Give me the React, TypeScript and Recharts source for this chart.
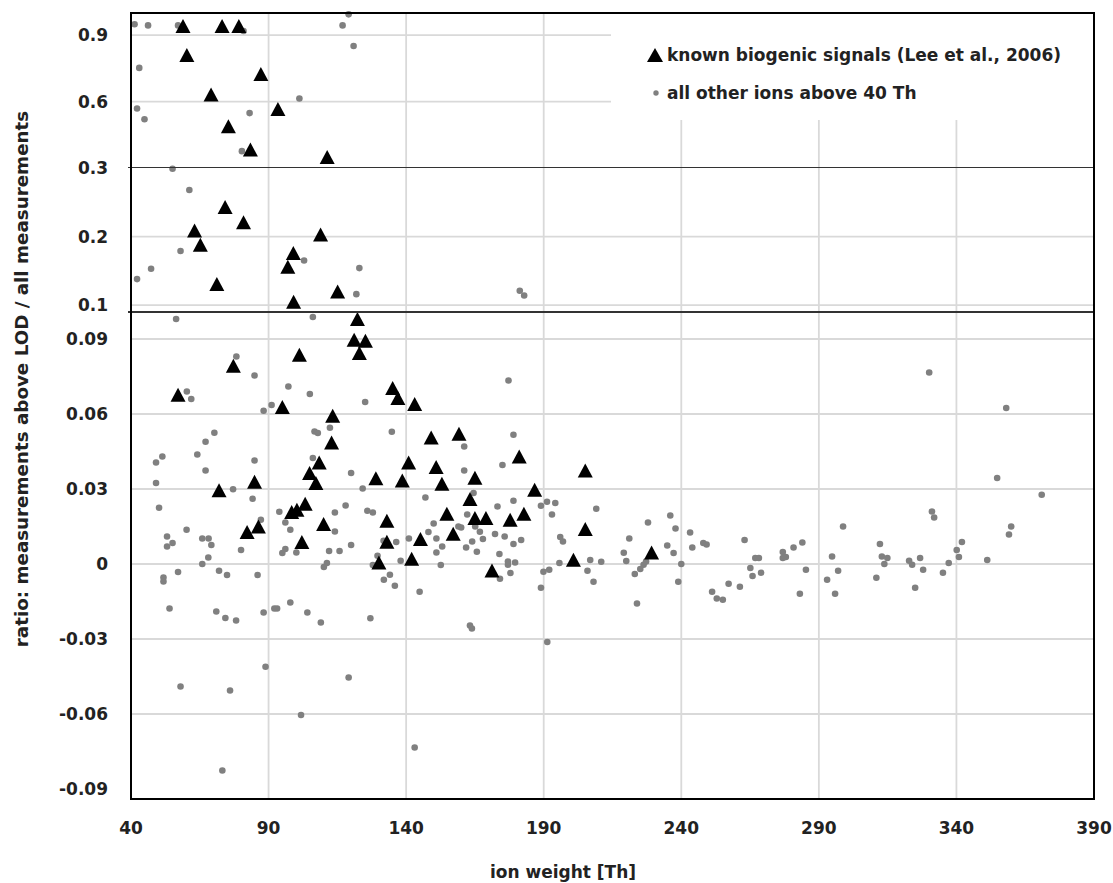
import React from "react";
import { ScatterChart, Scatter, XAxis, YAxis, CartesianGrid } from "recharts";

// x axis (ion weight, Th)
const xTicks = [40, 90, 140, 190, 240, 290, 340, 390];

// broken y axis: three stacked panels
const topTicks = [0.6, 0.9];
const midTicks = [0.1, 0.2, 0.3];
const lowTicks = [-0.09, -0.06, -0.03, 0, 0.03, 0.06, 0.09];
const lowGrid = [-0.06, -0.03, 0, 0.03, 0.06, 0.09];

// known biogenic signals (Lee et al., 2006): [ion weight, ratio]
const biogenic: [number, number][] = [
	[58.9, 0.941], [73.1, 0.941], [79.2, 0.941], [60.3, 0.81], [87.2, 0.724],
	[69.1, 0.632], [93.4, 0.567], [75.4, 0.489], [83.4, 0.383], [111.3, 0.35],
	[74.2, 0.243], [80.9, 0.221], [63.1, 0.209], [65.2, 0.188], [108.9, 0.203],
	[99.0, 0.176], [97.0, 0.156], [71.2, 0.131], [115.1, 0.12], [99.1, 0.105],
	[122.3, 0.098], [121.1, 0.0897], [125.2, 0.0893], [123.0, 0.0844], [101.2, 0.0837],
	[77.2, 0.0793], [57.1, 0.0677], [95.0, 0.0628], [113.3, 0.0593], [112.9, 0.0486],
	[108.4, 0.0406], [104.9, 0.0364], [107.2, 0.0324], [84.9, 0.0329], [129.0, 0.0343],
	[72.0, 0.0295], [135.1, 0.0704], [137.0, 0.0664], [143.1, 0.064], [149.1, 0.0506],
	[159.2, 0.0521], [181.1, 0.043], [205.1, 0.0374], [140.9, 0.0406], [150.9, 0.0388],
	[138.6, 0.0334], [165.0, 0.0345], [153.0, 0.0321], [186.7, 0.0297], [163.2, 0.026],
	[154.8, 0.0201], [133.0, 0.0173], [165.0, 0.0184], [169.0, 0.0184], [177.8, 0.0177],
	[182.8, 0.0201], [205.1, 0.014], [145.2, 0.01], [157.1, 0.0121], [133.0, 0.0089],
	[130.1, 0.0006], [142.0, 0.0021], [171.2, -0.0026], [200.8, 0.0017], [229.2, 0.0046],
	[82.2, 0.0128], [86.3, 0.015], [98.4, 0.0208], [100.3, 0.0217], [103.3, 0.0241],
	[110.0, 0.016], [102.1, 0.0088],
];

// all other ions above 40 Th: [ion weight, ratio]
const otherIons: [number, number][] = [
	// > 0.3
	[41.3, 0.949], [46.2, 0.944], [57.1, 0.944], [80.9, 0.919], [116.9, 0.944],
	[119.1, 0.994], [120.9, 0.851], [43.0, 0.752], [42.2, 0.569], [44.9, 0.52],
	[101.2, 0.614], [83.1, 0.548], [80.3, 0.376],
	// 0.1 - 0.3
	[55.1, 0.299], [61.2, 0.268], [58.0, 0.179], [47.3, 0.153], [42.2, 0.138],
	[102.9, 0.165], [123.0, 0.154], [121.9, 0.116], [181.3, 0.121], [182.9, 0.114],
	// < 0.1
	[56.4, 0.098], [106.1, 0.0988], [78.3, 0.083], [84.9, 0.0754], [60.3, 0.069],
	[61.9, 0.066], [97.2, 0.071], [105.0, 0.068], [125.1, 0.0648], [88.2, 0.0613],
	[91.1, 0.0636], [70.3, 0.0525], [67.1, 0.0489], [64.1, 0.0438], [51.4, 0.043],
	[49.1, 0.0406], [67.1, 0.0374], [49.1, 0.0324], [84.9, 0.0414], [106.7, 0.053],
	[107.9, 0.0524], [112.3, 0.0545], [106.1, 0.0424], [120.0, 0.0364], [124.2, 0.0302],
	[77.1, 0.0299], [177.2, 0.0734], [134.8, 0.0529], [179.0, 0.0517], [161.1, 0.047],
	[175.0, 0.0396], [161.1, 0.0374], [84.2, 0.0261], [50.2, 0.0225], [87.2, 0.0177],
	[60.2, 0.0137], [53.1, 0.011], [53.1, 0.007], [55.1, 0.0084], [65.9, 0.0102],
	[68.2, 0.0102], [69.2, 0.0076], [80.0, 0.0056], [68.1, 0.0026], [65.9, 0.0],
	[57.1, -0.0032], [51.8, -0.0054], [51.8, -0.007], [72.0, -0.0027], [74.9, -0.0044],
	[86.0, -0.0044], [93.9, 0.0209], [96.1, 0.0166], [97.9, 0.0137], [95.0, 0.0044],
	[96.1, 0.006], [100.1, 0.0046], [114.1, 0.0206], [118.0, 0.0234], [114.1, 0.013],
	[112.0, 0.0052], [115.8, 0.0052], [120.0, 0.0076], [110.1, -0.0012], [111.2, 0.0004],
	[125.9, 0.0213], [127.9, 0.0206], [127.9, -0.0004], [54.0, -0.0178], [71.0, -0.019],
	[74.3, -0.0216], [78.2, -0.0226], [88.2, -0.0194], [92.1, -0.0178], [93.1, -0.0178],
	[97.9, -0.0154], [104.1, -0.0194], [109.0, -0.0234], [127.0, -0.0217],
	[147.0, 0.0266], [164.5, 0.0284], [179.0, 0.0253], [191.2, 0.0249], [194.2, 0.0244],
	[189.0, 0.0233], [193.0, 0.0198], [209.1, 0.0221], [173.2, 0.023], [150.0, 0.0162],
	[148.1, 0.0128], [141.0, 0.0102], [151.0, 0.0102], [159.0, 0.015], [160.0, 0.0146],
	[162.2, 0.0198], [165.1, 0.015], [166.8, 0.0129], [167.9, 0.01], [164.0, 0.009],
	[161.8, 0.0066], [165.7, 0.0049], [172.3, 0.012], [175.8, 0.011], [179.0, 0.008],
	[181.8, 0.0096], [173.9, 0.004], [177.0, 0.001], [177.0, -0.0003], [179.6, 0.0006],
	[177.9, -0.0036], [174.1, -0.0059], [196.0, 0.0108], [197.0, 0.009], [195.7, 0.0004],
	[189.9, -0.0031], [192.0, -0.0023], [189.0, -0.0095], [206.9, 0.0016], [210.9, 0.0009],
	[205.9, -0.0027], [208.1, -0.0071], [136.4, 0.0088], [131.8, 0.0093], [153.1, 0.007],
	[151.0, 0.0046], [138.0, 0.0013], [152.6, -0.0004], [129.6, 0.0033], [134.1, -0.0043],
	[131.9, -0.0063], [135.9, -0.0087], [144.9, -0.0111], [163.2, -0.0246], [163.9, -0.0258],
	[191.3, -0.0312],
	[330.1, 0.0766], [358.1, 0.0624], [354.8, 0.0344], [371.0, 0.0277], [331.1, 0.021],
	[331.9, 0.0186], [359.9, 0.015], [359.1, 0.0118], [351.2, 0.0016], [342.0, 0.0088],
	[340.1, 0.0056], [340.9, 0.0028], [337.2, 0.0004], [335.1, -0.0035], [326.8, 0.0024],
	[322.8, 0.0013], [323.9, -0.0003], [327.9, -0.0023], [325.0, -0.0095], [312.2, 0.008],
	[312.9, 0.003], [314.9, 0.0024], [313.8, 0.0], [310.9, -0.0055], [298.8, 0.015],
	[294.8, 0.003], [297.0, -0.0027], [293.0, -0.0063], [295.9, -0.0119], [284.0, 0.0086],
	[280.8, 0.0066], [276.9, 0.0048], [276.9, 0.0024], [278.0, 0.0028], [285.3, -0.0023],
	[283.1, -0.0119], [263.0, 0.0096], [266.9, 0.0024], [268.2, 0.0024], [265.1, -0.0016],
	[265.9, -0.0048], [269.0, -0.0035], [257.2, -0.0079], [261.3, -0.0091], [251.2, -0.0111],
	[252.9, -0.0138], [255.1, -0.0143], [236.0, 0.0194], [227.9, 0.0166], [221.1, 0.0102],
	[237.9, 0.0142], [243.2, 0.0126], [234.9, 0.0074], [237.2, 0.0044], [244.0, 0.0066],
	[248.0, 0.0084], [249.2, 0.0078], [240.0, 0.0], [238.9, -0.0071], [219.1, 0.0045],
	[220.0, 0.0012], [223.1, -0.004], [225.1, -0.002], [226.3, -0.0003], [227.2, 0.001],
	[223.9, -0.0158],
	[58.0, -0.049], [76.0, -0.0506], [88.9, -0.0411], [73.2, -0.0826], [101.8, -0.0604],
	[119.1, -0.0454], [143.1, -0.0734],
];

const toPts = (arr: [number, number][], lo: number, hi: number) =>
	arr.filter(([, y]) => y > lo && y <= hi).map(([x, y]) => ({ x, y }));

const Tri = (p: any) => (
	<polygon
		points={`${p.cx},${p.cy - 7} ${p.cx - 7.5},${p.cy + 7} ${p.cx + 7.5},${p.cy + 7}`}
		fill="#000"
	/>
);
const Dot = (p: any) => <circle cx={p.cx} cy={p.cy} r={3.3} fill="#808080" />;

const FONT = "'DejaVu Sans', sans-serif";
const tickStyle = { fontFamily: FONT, fontWeight: 700, fontSize: 17, fill: "#222" };

const panels = [
	{ name: "top", top: 0, mTop: 13, plotH: 155, mBottom: 10, domain: [0.3, 1.0], ticks: topTicks, grid: topTicks, lo: 0.3, hi: 2 },
	{ name: "mid", top: 148, mTop: 20, plotH: 144, mBottom: 20, domain: [0.09, 0.3], ticks: midTicks, grid: [0.1, 0.2], lo: 0.1, hi: 0.3 },
	{ name: "low", top: 292, mTop: 20, plotH: 486, mBottom: 0, domain: [-0.0936, 0.1008], ticks: lowTicks, grid: lowGrid, lo: -1, hi: 0.1 },
];

export default function App() {
	return (
		<div style={{ position: "absolute", left: 0, top: 0, width: 1113, height: 883, background: "#fff", overflow: "hidden" }}>
			{panels.map((p) => {
				const isLow = p.name === "low";
				const xH = isLow ? 85 : 0;
				const h = p.mTop + p.plotH + p.mBottom + xH;
				return (
					<div key={p.name} style={{ position: "absolute", left: 0, top: p.top }}>
						<ScatterChart width={1113} height={h} margin={{ top: p.mTop, right: 19, bottom: p.mBottom, left: 0 }}>
							<CartesianGrid
								stroke="#d9d9d9"
								strokeWidth={1.8}
								horizontalValues={p.grid}
								verticalValues={xTicks}
							/>
							<XAxis
								type="number"
								dataKey="x"
								domain={[40, 390]}
								ticks={xTicks}
								interval={0}
								hide={!isLow}
								height={85}
								axisLine={false}
								tickLine={false}
								tickSize={0}
								tickMargin={24}
								tick={tickStyle}
							/>
							<YAxis
								type="number"
								dataKey="y"
								domain={p.domain}
								ticks={p.ticks}
								interval={0}
								width={131}
								axisLine={false}
								tickLine={false}
								tickSize={0}
								tickMargin={23}
								tick={tickStyle}
							/>
							<Scatter data={toPts(otherIons, p.lo, p.hi)} shape={Dot} isAnimationActive={false} />
							<Scatter data={toPts(biogenic, p.lo, p.hi)} shape={Tri} isAnimationActive={false} />
						</ScatterChart>
					</div>
				);
			})}

			{/* panel breaks */}
			<div style={{ position: "absolute", left: 128, top: 167, width: 966, height: 1.3, background: "#333" }} />
			<div style={{ position: "absolute", left: 128, top: 311.4, width: 966, height: 1.3, background: "#333" }} />

			{/* legend */}
			<div style={{ position: "absolute", left: 611, top: 13, width: 482, height: 107, background: "#fff", fontFamily: FONT, fontWeight: 700, fontSize: 17, color: "#222" }}>
				<svg style={{ position: "absolute", left: 36, top: 35 }} width={16} height={14}>
					<polygon points="8,0 0,14 16,14" fill="#000" />
				</svg>
				<div style={{ position: "absolute", left: 56, top: 42, transform: "translateY(-50%)", whiteSpace: "nowrap" }}>
					known biogenic signals (Lee et al., 2006)
				</div>
				<svg style={{ position: "absolute", left: 42, top: 77 }} width={6} height={6}>
					<circle cx={3} cy={3} r={2.7} fill="#808080" />
				</svg>
				<div style={{ position: "absolute", left: 56, top: 80, transform: "translateY(-50%)", whiteSpace: "nowrap" }}>
					all other ions above 40 Th
				</div>
			</div>

			{/* plot frame */}
			<div style={{ position: "absolute", left: 129.5, top: 12, width: 965, height: 787.5, border: "2.5px solid #000", boxSizing: "border-box" }} />

			{/* axis titles */}
			<div style={{ position: "absolute", left: 563, top: 872, transform: "translate(-50%,-50%)", whiteSpace: "nowrap", fontFamily: FONT, fontWeight: 700, fontSize: 17, color: "#222" }}>
				ion weight [Th]
			</div>
			<div style={{ position: "absolute", left: 21, top: 379, transform: "translate(-50%,-50%) rotate(-90deg)", whiteSpace: "nowrap", fontFamily: FONT, fontWeight: 700, fontSize: 18.3, color: "#222" }}>
				ratio: measurements above LOD / all measurements
			</div>
		</div>
	);
}
